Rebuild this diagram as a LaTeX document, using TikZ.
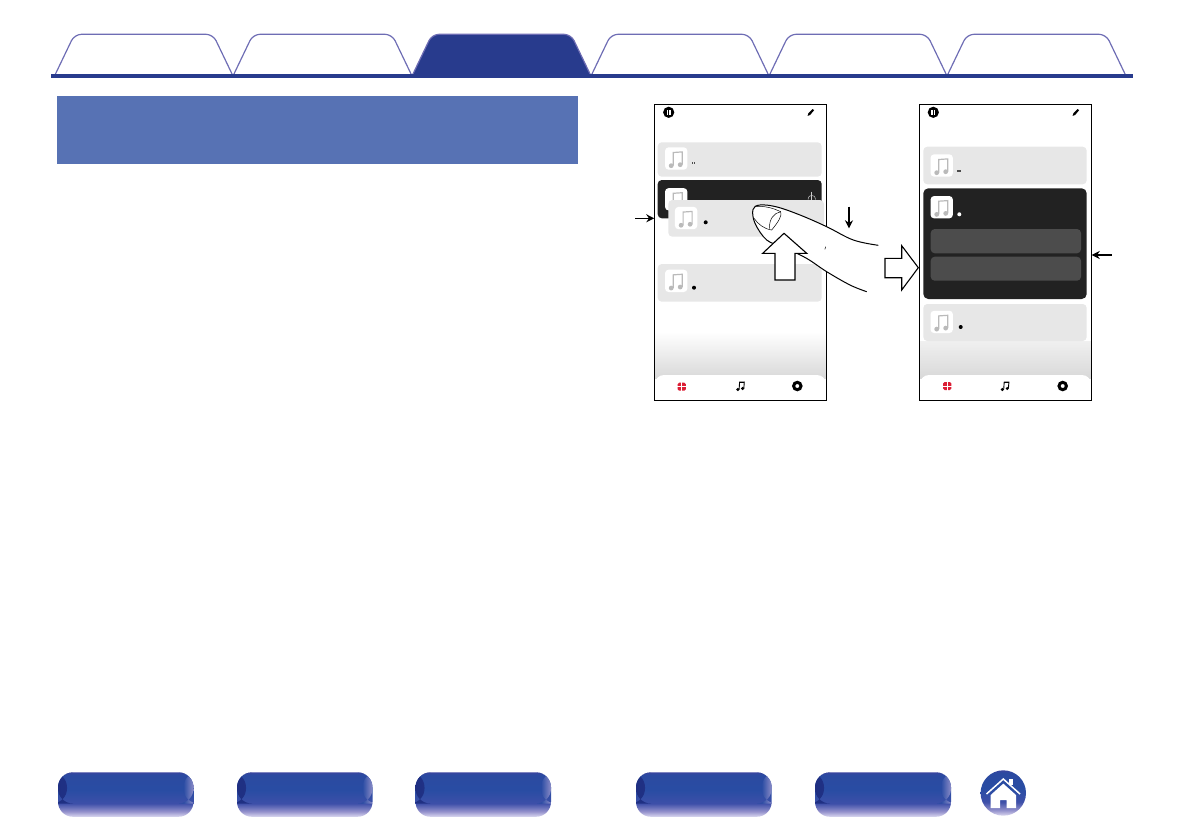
\documentclass[tikz,border=0pt]{standalone}
\usepackage{tikz}
\usetikzlibrary{calc}
\usetikzlibrary{arrows.meta}

\definecolor{tabline}{HTML}{6E6DB4}
\definecolor{tabdark}{HTML}{283B8D}
\definecolor{headblue}{HTML}{5772B4}
\definecolor{cardgray}{HTML}{E7E7E7}
\definecolor{carddark}{HTML}{222222}
\definecolor{subgray}{HTML}{4C4C4C}
\definecolor{notegray}{HTML}{BABABA}
\definecolor{navred}{HTML}{DC1E35}
\definecolor{navblue}{HTML}{2A4CA3}
\definecolor{navedgel}{HTML}{1F2F82}
\definecolor{navedger}{HTML}{8C8CC8}

\pgfdeclareverticalshading{navshade}{100bp}{
rgb(0bp)=(.86,.85,.94);
rgb(25bp)=(.86,.85,.94);
rgb(31bp)=(.58,.57,.80);
rgb(40bp)=(.24,.31,.66);
rgb(55bp)=(.16,.30,.64);
rgb(72bp)=(.17,.29,.63);
rgb(75bp)=(.22,.27,.62);
rgb(100bp)=(.22,.27,.62)}

\tikzset{
tabshape/.style={color=tabline,line width=1.2pt,rounded corners=7pt},
phone/.style={draw=black,line width=1pt,anchor=north west,minimum width=172.4pt,minimum height=296.4pt,inner sep=0pt,outer sep=0pt},
card/.style={fill=cardgray,rounded corners=4pt,anchor=north west,inner sep=0pt,outer sep=0pt},
darkcard/.style={card,fill=carddark},
subcard/.style={card,fill=subgray,rounded corners=4pt,minimum width=150.3pt},
navbar/.style={fill=white,rounded corners=9pt,anchor=north west,inner sep=0pt,outer sep=0pt,minimum width=171pt,minimum height=36pt},
iconbox/.style={fill=white,rounded corners=3.5pt,minimum width=22.3pt,minimum height=22.3pt,inner sep=0pt,outer sep=0pt},
navbtn/.style={shading=navshade,rounded corners=15pt,anchor=north west,inner sep=0pt,outer sep=0pt,minimum height=44.5pt,
 path picture={
 \shade[left color=navedgel,right color=navblue] (path picture bounding box.north west) rectangle ($(path picture bounding box.west)+(9,9)$);
 \shade[left color=navblue,right color=navedger] ($(path picture bounding box.north east)+(-10,0)$) rectangle ($(path picture bounding box.east)+(0,9)$);
 }},
smallarrow/.style={color=black,line width=1.4pt,-{Stealth[length=8pt,width=8pt]}},
bigarrow/.style={draw=black,fill=white,line width=1.1pt,line join=miter},
pics/noteglyph/.style={code={
 \draw[color=notegray,line width=1.2pt] (-3,7) -- (-3,-6) -- (6,-6.6) -- (6,6);
 \fill[color=notegray] (-5,7.2) circle (2.4pt);
 \fill[color=notegray] (4,6.2) circle (2.4pt);
 }},
pics/pausemark/.style={code={
 \fill[color=black] (0,0) circle (5.6pt);
 \fill[color=white] (-2.1,-2.6) rectangle (-0.6,2.6);
 \fill[color=white] (0.6,-2.6) rectangle (2.1,2.6);
 }},
pics/penmark/.style={code={
 \fill[color=black] (-3.4,3.6) -- (-2.6,0.9) -- (1.6,-3.2) -- (3.2,-2.2) -- (-0.9,2.7) -- cycle;
 }},
pics/gridmark/.style={code={
 \fill[color=navred,rounded corners=1.5pt] (-4.1,-4) rectangle (4.1,4);
 \draw[color=white,line width=0.8pt] (-4.5,0) -- (4.5,0);
 \draw[color=white,line width=0.8pt] (0,-4.5) -- (0,4.5);
 }},
pics/musicmark/.style={code={
 \draw[color=black,line width=0.9pt] (-1.6,3.6) -- (-1.1,-3.6) -- (3.6,-3.6) -- (3.1,2.6);
 \draw[color=black,line width=1.5pt] (-1.1,-3.4) -- (3.6,-3.4);
 \fill[color=black] (-2.9,3.8) circle (1.7pt);
 \fill[color=black] (1.9,2.8) circle (1.7pt);
 }},
pics/ringmark/.style={code={
 \draw[color=black,line width=3pt] (0,0) circle (3.7pt);
 }},
}

\begin{document}
\begin{tikzpicture}[x=1pt,y=-1pt]
\useasboundingbox (0,0) rectangle (1191,839);

\def\lwnail{0.5pt}
\def\lwfinger{1pt}
\def\tabtop{34.3}
\def\tabbot{76}

% tabs on top
\draw[tabshape] (54.5,\tabbot) -- (74.5,\tabtop) -- (213,\tabtop) -- (233,\tabbot);
\draw[tabshape] (233,\tabbot) -- (253,\tabtop) -- (392,\tabtop) -- (412,\tabbot);
\draw[tabshape,fill=tabdark] (412,\tabbot) -- (432,\tabtop) -- (571,\tabtop) -- (591,\tabbot);
\draw[tabshape] (591,\tabbot) -- (611,\tabtop) -- (749,\tabtop) -- (769,\tabbot);
\draw[tabshape] (769,\tabbot) -- (789,\tabtop) -- (927,\tabtop) -- (947,\tabbot);
\draw[tabshape] (947,\tabbot) -- (967,\tabtop) -- (1106,\tabtop) -- (1126,\tabbot);
\fill[color=tabdark] (51,74.4) rectangle (1133,77.8);

% heading bar
\node[fill=headblue,anchor=north west,inner sep=0pt,outer sep=0pt,minimum width=521pt,minimum height=68pt] (headbar) at (57,96) {};

% left screen
\shade[top color=white,bottom color=black!15] (655,331.7) rectangle (826.3,378);
\node[card,minimum width=164pt,minimum height=34.4pt] (cardA) at (657.7,142.3) {};
\node[iconbox] (iconA) at ($(cardA.west)+(18.5,-1)$) {};
\pic at (iconA) {noteglyph};
\fill[color=black!70] (691.8,161.6) rectangle (692.7,164.4);
\fill[color=black!70] (693.6,161.6) rectangle (694.5,164.4);

\node[darkcard,minimum width=164pt,minimum height=38.3pt] (cardB) at (657.7,180) {};
\node[iconbox] (iconB) at (676.2,199.3) {};
\pic at (iconB) {noteglyph};
\draw[color=white!80!black,line width=0.5pt] (811.7,191.5) -- (811.7,199.5);
\draw[color=white!80!black,line width=0.5pt] (808,199.5) .. controls (808.5,196) and (810,195.5) .. (811.7,195.5) .. controls (813.5,195.5) and (815,196) .. (815.5,199.5);

\node[card,minimum width=155.7pt,minimum height=36.7pt] (cardDrag) at (668.3,200) {};
\node[iconbox] (iconDrag) at ($(cardDrag.west)+(17.8,-0.3)$) {};
\pic at (iconDrag) {noteglyph};
\fill[color=black] (705.7,222.3) circle (2pt);

\node[card,minimum width=164pt,minimum height=37.7pt] (cardC) at (657.7,264) {};
\node[iconbox] (iconC) at ($(cardC.west)+(18.5,-2)$) {};
\pic at (iconC) {noteglyph};
\fill[color=black] (694,287.7) circle (2pt);

\node[navbar] (navL) at (655,375) {};
\fill[color=white] (650,401.2) rectangle (832,412);
\pic at (668.7,112.3) {pausemark};
\pic at (811,112.3) {penmark};
\pic at (681.7,386.7) {gridmark};
\pic at (740.7,385.7) {musicmark};
\pic at (797.3,386) {ringmark};
\node[phone] (phoneL) at (654.3,104.3) {};

% right screen
\shade[top color=black!6,bottom color=black!15] (920,341) rectangle (1091.3,378);
\node[card,minimum width=163.4pt,minimum height=37.6pt] (cardD) at (923.3,146.7) {};
\node[iconbox] (iconD) at ($(cardD.west)+(18.4,0)$) {};
\pic at (iconD) {noteglyph};
\fill[color=black!70] (957,170) rectangle (961,172);

\node[darkcard,minimum width=163.4pt,minimum height=110.7pt,rounded corners=5pt] (cardE) at (923.3,188.3) {};
\node[iconbox] (iconE) at (941.7,207.2) {};
\pic at (iconE) {noteglyph};
\fill[color=white] (959.3,214.3) circle (2pt);
\node[subcard,minimum height=24.3pt] (subA) at (930.7,229) {};
\node[subcard,minimum height=24pt] (subB) at (930.7,256.7) {};

\node[card,minimum width=163.4pt,minimum height=37pt] (cardF) at (923.3,304) {};
\node[iconbox] (iconF) at ($(cardF.west)+(18.4,-0.6)$) {};
\pic at (iconF) {noteglyph};
\fill[color=black] (960.7,327) circle (2pt);

\node[navbar] (navR) at (920,375) {};
\fill[color=white] (915,401.2) rectangle (1097,412);
\pic at (933.3,112.3) {pausemark};
\pic at (1076,112.3) {penmark};
\pic at (947.3,386) {gridmark};
\pic at (1005.3,385.7) {musicmark};
\pic at (1062.7,386) {ringmark};
\node[phone] (phoneR) at (919.3,104.3) {};

% finger
\def\fingeredge{(878.3,245.3) (853.3,240) (826.7,226.7) (800,215) (776.7,206.9) (760,205) (753,209.5) (755,223.3) (766.7,240) (783,247) (806,258) (826.7,271.7) (850,285) (866.7,291.7)}
\fill[color=white] plot[smooth,tension=.6] coordinates {\fingeredge} -- cycle;
\draw[color=black,line width=\lwfinger] plot[smooth,tension=.6] coordinates {\fingeredge};
\draw[color=black,line width=\lwnail] (755,206.7) .. controls (764,205.5) and (773,208) .. (780.7,211.7) .. controls (782,216) and (779,221) .. (771.7,230) .. controls (764,229) and (758,224) .. (754,218.3);
\draw[color=black,line width=\lwnail] (780.7,211.7) .. controls (774,213) and (769,219) .. (769.5,228.5);
\draw[color=black,line width=\lwnail] (825.7,246.7) -- (824.9,249.3);

% big arrows
\draw[bigarrow] (784,233.3) -- (806.7,253.3) -- (795,253.3) -- (795,280) -- (775,280) -- (775,253.3) -- (762.7,253.3) -- cycle;
\draw[bigarrow] (885,258.3) -- (901.7,258.3) -- (901.7,245.7) -- (918.3,267.7) -- (901.7,290) -- (901.7,277.7) -- (885,277.7) -- cycle;

% small arrows
\coordinate (arrL) at (635,218.3);
\coordinate (arrM) at (849,206.7);
\coordinate (arrMend) at (849,228.3);
\coordinate (arrR) at (1111.7,255);
\draw[smallarrow] (arrL) -- (arrL -| phoneL.west);
\draw[smallarrow] (arrM) -- (arrMend);
\draw[smallarrow] (arrR) -- (arrR -| phoneR.east);

% buttons at the bottom
\node[navbtn,minimum width=135.5pt] (btnA) at (58,772.3) {};
\node[navbtn,minimum width=135.5pt] (btnB) at (237,772.3) {};
\node[navbtn,minimum width=135.5pt] (btnC) at (415.5,772.3) {};
\node[navbtn,minimum width=135.7pt] (btnD) at (636,772.3) {};
\node[navbtn,minimum width=136pt] (btnE) at (815,772.3) {};

% home
\node[circle,shading=navshade,minimum size=45.4pt,inner sep=0pt,outer sep=0pt] (btnHome) at (1003.3,793) {};
\fill[color=white] (1008.5,778.7) rectangle (1013,785);
\fill[color=white] (990.7,795) -- (1003.3,783.6) -- (1016,795) -- (1016,808) -- (1006.7,808) -- (1006.7,800) -- (1000,800) -- (1000,808) -- (990.7,808) -- cycle;
\draw[color=white,line width=1.5pt] (986.5,794) -- (1003.3,779) -- (1020,794);
\end{tikzpicture}
\end{document}
